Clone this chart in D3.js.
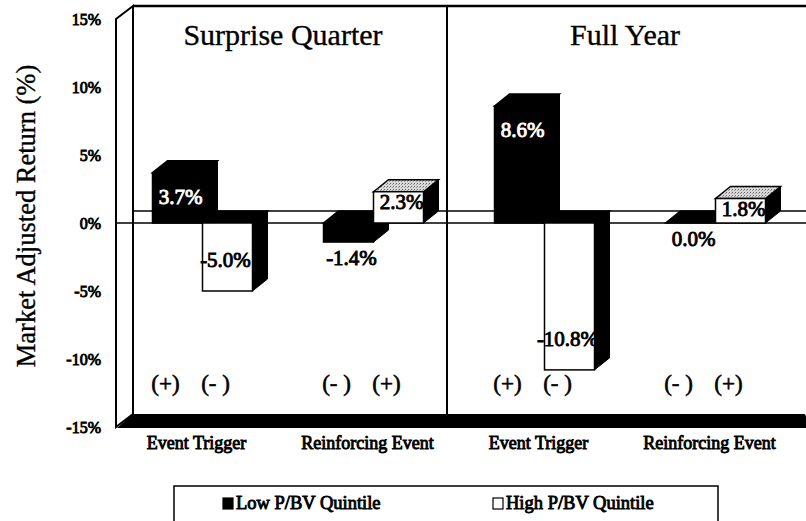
<!DOCTYPE html>
<html>
<head>
<meta charset="utf-8">
<script src="https://cdn.jsdelivr.net/npm/d3@7"></script>
<style>
  body { margin: 0; background: #fff; }
  svg { display: block; font-family: "Liberation Serif", "Times New Roman", serif; }
  text { stroke: #000; stroke-width: 0.35px; }
  text.mid { stroke-width: 0.6px; }
  text.heavy { stroke-width: 0.9px; }
  text.inv { stroke: #fff; }
</style>
</head>
<body>
<svg id="chart" width="806" height="521"></svg>
<script>
// chart data
var panels = ["Surprise Quarter", "Full Year"];
var categories = ["Event Trigger", "Reinforcing Event", "Event Trigger", "Reinforcing Event"];
var groupPanel = [0, 0, 1, 1];
var series = ["Low P/BV Quintile", "High P/BV Quintile"];
var lowValues = [3.7, -1.4, 8.6, 0.0];
var highValues = [-5.0, 2.3, -10.8, 1.8];
var lowSigns = ["(+)", "(- )", "(+)", "(- )"];
var highSigns = ["(- )", "(+)", "(- )", "(+)"];
var yTicks = [15, 10, 5, 0, -5, -10, -15];

var svg = d3.select("#chart");
var W = 806;

// front plane scales
var y = d3.scaleLinear().domain([-15, 15]).range([427, 19]);
var groups = d3.range(categories.length);
var x = d3.scaleBand().domain(groups).range([117, 801]).padding(0);
var xSub = d3.scaleBand().domain([0, 1]).range([0, x.bandwidth()]).paddingOuter(0.71);

// depth offsets (wall / bars)
var wdx = 17, wdy = -13;
var bdx = 15, bdy = -12;

var pts = function(a) { return a.map(function(p) { return p.join(","); }).join(" "); };
// hyphen minus like the original, not the unicode one
var pct = function(v) { return d3.format(".1f")(v).replace("\u2212", "-") + "%"; };

// stipple for lit top faces
var defs = svg.append("defs");
var pat = defs.append("pattern").attr("id", "stip").attr("width", 3).attr("height", 3)
    .attr("patternUnits", "userSpaceOnUse");
pat.append("rect").attr("width", 3).attr("height", 3).attr("fill", "#d8d8d8");
pat.append("rect").attr("width", 1).attr("height", 1).attr("fill", "#666");
pat.append("rect").attr("x", 2).attr("y", 1).attr("width", 1).attr("height", 1).attr("fill", "#999");

var frontL = 116, backL = frontL + wdx;

// left wall
svg.append("polygon")
    .attr("points", pts([[frontL, y(15)], [backL, y(15) + wdy], [backL, y(-15) + wdy], [frontL, y(-15)]]))
    .attr("fill", "#fff").attr("stroke", "#000").attr("stroke-width", 2);

// back wall top edge
svg.append("line").attr("x1", backL).attr("x2", W).attr("y1", y(15) + wdy).attr("y2", y(15) + wdy)
    .attr("stroke", "#000").attr("stroke-width", 2.5);

// panel divider on back wall
svg.append("line")
    .attr("x1", x(2) - 12).attr("x2", x(2) - 12)
    .attr("y1", y(15) + wdy).attr("y2", y(-15) + wdy)
    .attr("stroke", "#000").attr("stroke-width", 2);

// zero lines (back and front)
svg.append("line").attr("x1", backL).attr("x2", W).attr("y1", y(0) + bdy).attr("y2", y(0) + bdy)
    .attr("stroke", "#000").attr("stroke-width", 1.5);
svg.append("line").attr("x1", frontL).attr("x2", W).attr("y1", y(0)).attr("y2", y(0))
    .attr("stroke", "#000").attr("stroke-width", 1.5);

// floor
svg.append("path")
    .attr("d", "M" + (frontL + 1) + "," + (y(-15) + 1) + "L" + backL + "," + (y(-15) + wdy) +
        "L" + (W - 2) + "," + (y(-15) + wdy) + "Q" + W + "," + (y(-15) + wdy) + " " + W + "," + (y(-15) + wdy + 4) +
        "L" + W + "," + (y(-15) + 1) + "Z")
    .attr("fill", "#000");

// y tick labels
svg.append("g").selectAll("text").data(yTicks).enter().append("text")
    .attr("class", "heavy")
    .attr("x", 101).attr("y", function(d) { return y(d); }).attr("dy", "0.35em")
    .attr("text-anchor", "end").attr("font-size", 16)
    .text(function(d) { return d + "%"; });

// y title
svg.append("text")
    .attr("transform", "translate(35,216) rotate(-90)")
    .attr("text-anchor", "middle").attr("font-size", 26.5)
    .text("Market Adjusted Return (%)");

// panel titles
panels.forEach(function(p, i) {
    var gi = groups.filter(function(g) { return groupPanel[g] === i; });
    var cx = (x(gi[0]) + x(gi[gi.length - 1]) + x.bandwidth()) / 2 - 5;
    svg.append("text").attr("x", cx).attr("y", 45).attr("text-anchor", "middle")
        .attr("font-size", 30).text(p);
});

// bars
var bars = [];
groups.forEach(function(g) {
    bars.push({ g: g, s: 0, v: lowValues[g], sign: lowSigns[g] });
    bars.push({ g: g, s: 1, v: highValues[g], sign: highSigns[g] });
});

var barG = svg.append("g");
bars.forEach(function(b) {
    var x0 = x(b.g) + xSub(b.s), x1 = x0 + xSub.bandwidth();
    var y0 = y(0), y1 = y(b.v);
    var dark = b.s === 0;
    var topY = Math.min(y0, y1), botY = Math.max(y0, y1);
    // side face
    barG.append("polygon")
        .attr("points", pts([[x1, topY], [x1 + bdx, topY + bdy], [x1 + bdx, botY + bdy], [x1, botY]]))
        .attr("fill", "#000").attr("stroke", "#000").attr("stroke-width", 1);
    // top face
    barG.append("polygon")
        .attr("points", pts([[x0, topY], [x0 + bdx, topY + bdy], [x1 + bdx, topY + bdy], [x1, topY]]))
        .attr("fill", (dark || b.v <= 0) ? "#000" : "url(#stip)")
        .attr("stroke", "#000").attr("stroke-width", 1.5);
    // front face
    if (botY - topY > 0) {
        barG.append("rect")
            .attr("x", x0).attr("y", topY).attr("width", x1 - x0).attr("height", botY - topY)
            .attr("fill", dark ? "#000" : "#fff").attr("stroke", "#000").attr("stroke-width", 1.5);
    }
    b.cx = (x0 + x1) / 2;
    b.dark = dark;
});

// value labels
svg.append("g").selectAll("text").data(bars).enter().append("text")
    .attr("class", function(b) { return (b.dark && b.v >= 3) ? "heavy inv" : "heavy"; })
    .attr("x", function(b) { return b.cx + (b.v <= -3 ? -2 : 3); })
    .attr("y", function(b) {
        if (b.v >= 3) return y(b.v) + 24;
        if (b.v > 0) return y(b.v) + 10;
        if (b.v <= -3) return y(b.v) - 31;
        return y(b.v) + 16;
    })
    .attr("dy", "0.35em").attr("text-anchor", "middle")
    .attr("font-size", 21)
    .attr("fill", function(b) { return (b.dark && b.v >= 3) ? "#fff" : "#000"; })
    .text(function(b) { return pct(b.v); });

// sign labels
svg.append("g").selectAll("text").data(bars).enter().append("text")
    .attr("class", "mid")
    .attr("x", function(b) { return b.cx - 12; }).attr("y", 383).attr("dy", "0.35em")
    .attr("text-anchor", "middle").attr("font-size", 23)
    .text(function(b) { return b.sign; });

// category labels
svg.append("g").selectAll("text").data(groups).enter().append("text")
    .attr("class", "heavy")
    .attr("x", function(g) { return x(g) + x.bandwidth() / 2 - 6; }).attr("y", 449)
    .attr("text-anchor", "middle").attr("font-size", 18)
    .text(function(g) { return categories[g]; });

// legend
svg.append("rect").attr("x", 174).attr("y", 486).attr("width", 544).attr("height", 36)
    .attr("fill", "#fff").attr("stroke", "#000").attr("stroke-width", 1.5);
var leg = svg.append("g").selectAll("g").data(series).enter().append("g")
    .attr("transform", function(d, i) { return "translate(" + (223 + i * 270) + ",498)"; });
leg.append("rect").attr("width", 10).attr("height", 11)
    .attr("fill", function(d, i) { return i === 0 ? "#000" : "#fff"; })
    .attr("stroke", "#000").attr("stroke-width", 1.2);
leg.append("text").attr("class", "heavy")
    .attr("x", 13).attr("y", 11).attr("font-size", 18.5).text(function(d) { return d; });
</script>
</body>
</html>
